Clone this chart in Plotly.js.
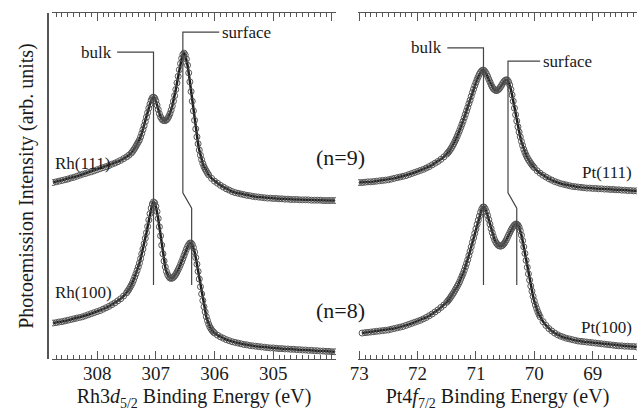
<!DOCTYPE html>
<html>
<head>
<meta charset="utf-8">
<script src="https://cdn.plot.ly/plotly-3.0.1.min.js"></script>
<style>html,body{margin:0;padding:0;background:#fff;}#chart{width:637px;height:419px;}</style>
</head>
<body>
<div id="chart"></div>
<script>
// ---------- Rh 3d5/2 spectra (binding energy in eV, intensity in arb. units with offsets) ----------
const rh111_E = [308.75,308.70,308.65,308.60,308.55,308.50,308.45,308.40,308.35,308.30,308.25,308.20,308.15,308.10,308.05,308.00,307.95,307.90,307.85,307.80,307.75,307.70,307.65,307.60,307.55,307.50,307.46,307.42,
307.40,307.38,307.36,307.34,307.32,307.30,307.28,307.26,307.24,307.22,307.20,307.18,307.16,307.14,307.12,307.10,307.08,307.06,307.04,307.02,307.00,306.98,306.96,306.94,306.92,306.90,306.88,306.86,306.84,306.82,306.80,306.78,306.76,306.74,306.72,306.70,306.68,306.66,306.64,306.62,306.60,306.58,306.56,306.54,306.52,306.50,306.48,306.46,306.44,306.42,306.40,306.38,306.36,306.34,306.32,306.30,306.28,306.26,306.24,306.22,306.20,306.18,306.16,306.14,306.12,306.10,
306.05,306.00,305.95,305.90,305.85,305.80,305.75,305.70,305.65,305.60,305.55,305.50,305.45,305.40,305.35,305.30,305.25,305.20,305.15,305.10,305.05,305.00,304.95,304.90,304.85,304.80,304.75,304.70,304.65,304.60,304.55,304.50,304.45,304.40,304.35,304.30,304.25,304.20,304.15,304.10,304.05,304.00,303.95];
const rh111_I = [51.0,51.2,51.4,51.6,51.8,52.0,52.3,52.5,52.8,53.1,53.4,53.6,53.9,54.1,54.4,54.7,55.0,55.3,55.6,55.9,56.3,56.6,57.0,57.4,57.9,58.4,58.9,59.5,
59.9,60.4,60.9,61.5,62.1,62.7,63.3,64.2,65.2,66.3,67.4,68.6,69.9,71.2,72.5,73.7,74.8,75.5,75.7,75.4,74.6,73.4,72.1,70.9,70.0,69.4,69.0,68.9,68.9,69.1,69.5,70.1,70.9,71.9,73.1,74.5,76.1,77.9,79.8,81.7,83.6,85.4,86.9,88.0,88.4,87.9,86.7,84.9,82.7,80.1,77.3,74.5,71.7,69.0,66.5,64.2,62.2,60.4,58.9,57.6,56.5,55.6,54.9,54.3,53.7,53.2,
52.2,51.4,50.8,50.2,49.7,49.2,48.8,48.4,48.1,47.9,47.7,47.5,47.3,47.2,47.0,46.9,46.8,46.7,46.6,46.5,46.5,46.4,46.4,46.3,46.3,46.2,46.2,46.1,46.1,46.1,46.0,46.0,46.0,46.0,45.9,45.9,45.9,45.9,45.8,45.8,45.8,45.8,45.8];

const rh100_E = [308.75,308.70,308.65,308.60,308.55,308.50,308.45,308.40,308.35,308.30,308.25,308.20,308.15,308.10,308.05,308.00,307.95,307.90,307.85,307.80,307.75,307.70,307.65,307.60,307.55,307.50,
307.48,307.46,307.44,307.42,307.40,307.38,307.36,307.34,307.32,307.30,307.28,307.26,307.24,307.22,307.20,307.18,307.16,307.14,307.12,307.10,307.08,307.06,307.04,307.02,307.00,306.98,306.96,306.94,306.92,306.90,306.88,306.86,306.84,306.82,306.80,306.78,306.76,306.74,306.72,306.70,306.68,306.66,306.64,306.62,306.60,306.58,306.56,306.54,306.52,306.50,306.48,306.46,306.44,306.42,306.40,306.38,306.36,306.34,306.32,306.30,306.28,306.26,306.24,306.22,306.20,306.18,306.16,306.14,306.12,306.10,306.08,306.06,306.04,306.02,306.00,
305.95,305.90,305.85,305.80,305.75,305.70,305.65,305.60,305.55,305.50,305.45,305.40,305.35,305.30,305.25,305.20,305.15,305.10,305.05,305.00,304.95,304.90,304.85,304.80,304.75,304.70,304.65,304.60,304.55,304.50,304.45,304.40,304.35,304.30,304.25,304.20,304.15,304.10,304.05,304.00,303.95];
const rh100_I = [10.4,10.5,10.7,10.8,11.0,11.2,11.4,11.6,11.8,12.0,12.2,12.5,12.8,13.1,13.4,13.7,14.0,14.4,14.8,15.2,15.7,16.2,16.8,17.4,18.2,19.1,
19.6,20.1,20.7,21.3,22.0,22.8,23.7,24.6,25.6,26.6,27.7,29.0,30.4,31.8,33.3,34.9,36.5,38.3,40.2,42.0,43.6,44.8,45.4,45.1,44.1,42.6,40.6,38.2,35.6,32.9,30.4,28.3,26.6,25.3,24.4,23.8,23.4,23.3,23.4,23.6,24.0,24.5,25.1,25.8,26.5,27.3,28.1,29.0,29.9,30.8,31.7,32.5,33.1,33.5,33.5,33.1,32.2,30.9,29.3,27.4,25.3,23.1,20.9,18.8,16.9,15.1,13.6,12.2,11.1,10.1,9.3,8.7,8.2,7.8,7.5,
6.9,6.4,6.0,5.6,5.3,5.0,4.8,4.6,4.4,4.2,4.1,3.9,3.8,3.7,3.6,3.5,3.4,3.3,3.2,3.2,3.1,3.0,3.0,2.9,2.9,2.8,2.8,2.7,2.7,2.6,2.6,2.5,2.5,2.4,2.4,2.3,2.3,2.2,2.2,2.1,2.1];

// ---------- Pt 4f7/2 spectra ----------
const pt111_E = [73.00,72.95,72.90,72.85,72.80,72.75,72.70,72.65,72.60,72.55,72.50,72.45,72.40,72.35,72.30,72.25,72.20,72.15,72.10,72.05,72.00,71.95,71.90,71.85,71.80,71.75,71.70,71.65,71.60,71.55,71.50,
71.48,71.46,71.44,71.42,71.40,71.38,71.36,71.34,71.32,71.30,71.28,71.26,71.24,71.22,71.20,71.18,71.16,71.14,71.12,71.10,71.08,71.06,71.04,71.02,71.00,70.98,70.96,70.94,70.92,70.90,70.88,70.86,70.84,70.82,70.80,70.78,70.76,70.74,70.72,70.70,70.68,70.66,70.64,70.62,70.60,70.58,70.56,70.54,70.52,70.50,70.48,70.46,70.44,70.42,70.40,70.38,70.36,70.34,70.32,70.30,70.28,70.26,70.24,70.22,70.20,70.18,70.16,70.14,70.12,70.10,70.08,70.06,70.04,70.02,70.00,
69.95,69.90,69.85,69.80,69.75,69.70,69.65,69.60,69.55,69.50,69.45,69.40,69.35,69.30,69.25,69.20,69.15,69.10,69.05,69.00,68.95,68.90,68.85,68.80,68.75,68.70,68.65,68.60,68.55,68.50,68.45,68.40,68.35,68.30,68.25];
const pt111_I = [51.0,51.0,51.1,51.2,51.2,51.3,51.4,51.5,51.6,51.7,51.8,52.0,52.2,52.4,52.6,52.8,53.0,53.3,53.6,53.9,54.2,54.5,54.8,55.2,55.6,56.1,56.6,57.1,57.7,58.4,59.2,
59.6,60.0,60.5,61.0,61.6,62.2,62.9,63.6,64.4,65.2,66.0,66.9,67.8,68.7,69.7,70.7,71.7,72.7,73.8,74.8,75.9,77.0,78.0,79.0,79.9,80.8,81.6,82.3,82.9,83.3,83.5,83.4,83.0,82.4,81.7,80.9,80.1,79.3,78.6,78.1,77.8,77.6,77.6,77.8,78.1,78.6,79.1,79.7,80.2,80.5,80.7,80.6,80.1,79.2,77.9,76.3,74.5,72.5,70.6,68.8,67.1,65.6,64.2,62.9,61.7,60.6,59.7,58.9,58.2,57.6,57.1,56.6,56.1,55.7,55.3,
54.4,53.7,53.1,52.6,52.1,51.7,51.3,51.0,50.7,50.5,50.3,50.1,49.9,49.8,49.7,49.6,49.5,49.4,49.4,49.3,49.3,49.2,49.2,49.1,49.1,49.0,49.0,48.9,48.9,48.8,48.8,48.7,48.7,48.6,48.6];

const pt100_E = [72.95,72.90,72.85,72.80,72.75,72.70,72.65,72.60,72.55,72.50,72.45,72.40,72.35,72.30,72.25,72.20,72.15,72.10,72.05,72.00,71.95,71.90,71.85,71.80,71.75,71.70,71.65,71.60,71.55,71.50,
71.48,71.46,71.44,71.42,71.40,71.38,71.36,71.34,71.32,71.30,71.28,71.26,71.24,71.22,71.20,71.18,71.16,71.14,71.12,71.10,71.08,71.06,71.04,71.02,71.00,70.98,70.96,70.94,70.92,70.90,70.88,70.86,70.84,70.82,70.80,70.78,70.76,70.74,70.72,70.70,70.68,70.66,70.64,70.62,70.60,70.58,70.56,70.54,70.52,70.50,70.48,70.46,70.44,70.42,70.40,70.38,70.36,70.34,70.32,70.30,70.28,70.26,70.24,70.22,70.20,70.18,70.16,70.14,70.12,70.10,70.08,70.06,70.04,70.02,70.00,69.98,69.96,69.94,69.92,69.90,
69.85,69.80,69.75,69.70,69.65,69.60,69.55,69.50,69.45,69.40,69.35,69.30,69.25,69.20,69.15,69.10,69.05,69.00,68.95,68.90,68.85,68.80,68.75,68.70,68.65,68.60,68.55,68.50,68.45,68.40,68.35,68.30,68.25];
const pt100_I = [7.5,7.6,7.7,7.8,7.9,8.0,8.1,8.2,8.3,8.4,8.6,8.8,9.0,9.2,9.4,9.7,10.0,10.3,10.6,10.9,11.2,11.6,12.0,12.5,13.0,13.6,14.2,14.9,15.6,16.4,
16.8,17.2,17.7,18.2,18.7,19.2,19.8,20.4,21.0,21.6,22.3,23.1,23.9,24.7,25.6,26.6,27.6,28.7,29.9,31.1,32.4,33.7,35.0,36.3,37.6,38.9,40.1,41.3,42.4,43.3,43.9,43.9,43.4,42.6,41.5,40.3,39.0,37.7,36.5,35.4,34.5,33.8,33.3,32.9,32.7,32.6,32.7,32.9,33.3,33.8,34.4,35.1,35.8,36.5,37.2,37.8,38.3,38.7,39.0,39.0,38.7,38.1,37.1,35.8,34.2,32.4,30.5,28.5,26.5,24.6,22.8,21.1,19.6,18.1,16.8,15.6,14.6,13.7,12.9,12.2,
10.8,9.7,8.8,8.1,7.5,7.0,6.6,6.3,6.0,5.8,5.6,5.4,5.2,5.1,5.0,4.9,4.8,4.7,4.6,4.5,4.4,4.3,4.2,4.1,4.0,3.9,3.8,3.8,3.7,3.7,3.6,3.6,3.5];

// ---------- Labels ----------
const xTitleRh = 'Rh3<i>d</i><sub>5/2</sub> Binding Energy (eV)';
const xTitlePt = 'Pt4<i>f</i><sub>7/2</sub> Binding Energy (eV)';
const yTitle = 'Photoemission Intensity (arb. units)';

// ---------- Styling / layout ----------
const W = 637, H = 419;
const FONT = 'Liberation Serif';
const INK = '#1a1a1a';
const AX = '#555';
const LEAD = '#444';
const px = v => v / W;
const py = v => (H - v) / H;

function spec(x, y, xa, ya) {
  return {
    x: x, y: y, xaxis: xa, yaxis: ya, type: 'scatter', mode: 'lines+markers',
    line: {color: '#1e1e1e', width: 2.5},
    marker: {symbol: 'circle-open', size: 6, color: '#555', line: {width: 1, color: '#555'}},
    hoverinfo: 'skip', showlegend: false
  };
}

const data = [
  spec(rh111_E, rh111_I, 'x', 'y'),
  spec(rh100_E, rh100_I, 'x', 'y'),
  spec(pt111_E, pt111_I, 'x2', 'y2'),
  spec(pt100_E, pt100_I, 'x2', 'y2')
];

const xCommon = {
  showline: true, linecolor: AX, linewidth: 1.2, mirror: 'allticks',
  tickmode: 'linear', tick0: 0, dtick: 1,
  ticks: 'inside', ticklen: 8, tickwidth: 1, tickcolor: AX,
  ticklabelstandoff: -3,
  minor: {tick0: 0, dtick: 0.1, ticks: 'inside', ticklen: 4, tickwidth: 1, tickcolor: AX, showgrid: false},
  showgrid: false, zeroline: false,
  tickfont: {family: FONT, size: 19, color: INK}
};

const yDomain = [py(359), py(13)];

const layout = {
  width: W, height: H,
  margin: {l: 0, r: 0, t: 0, b: 0, pad: 0},
  paper_bgcolor: '#fff', plot_bgcolor: 'rgba(0,0,0,0)',
  font: {family: FONT, color: INK},
  showlegend: false,
  xaxis: Object.assign({}, xCommon, {
    domain: [px(52), px(336)], range: [308.77, 303.93], anchor: 'y',
    labelalias: {'304': ' '},
    title: {text: xTitleRh, font: {family: FONT, size: 20, color: INK}, standoff: 6}
  }),
  xaxis2: Object.assign({}, xCommon, {
    domain: [px(358), 1], range: [73.02, 68.24], anchor: 'y2',
    title: {text: xTitlePt, font: {family: FONT, size: 20, color: INK}, standoff: 6}
  }),
  yaxis: {
    domain: yDomain, range: [0, 100], anchor: 'free', position: px(47),
    showline: true, linecolor: AX, linewidth: 1.5, ticks: '', showticklabels: false,
    showgrid: false, zeroline: false,
    title: {text: yTitle, font: {family: FONT, size: 20, color: INK}, standoff: 6}
  },
  yaxis2: {
    domain: yDomain, range: [0, 100], anchor: 'x2',
    showline: false, ticks: '', showticklabels: false, showgrid: false, zeroline: false
  },
  shapes: [
    {type: 'path', xref: 'x', yref: 'y', path: 'M307.66,88.7 L307.04,88.7 L307.04,21.4', line: {color: LEAD, width: 1.2}},
    {type: 'path', xref: 'x', yref: 'y', path: 'M305.92,94.5 L306.54,94.5 L306.54,48.0 L306.39,43.6 L306.39,21.4', line: {color: LEAD, width: 1.2}},
    {type: 'path', xref: 'x2', yref: 'y2', path: 'M71.49,89.9 L70.87,89.9 L70.87,21.4', line: {color: LEAD, width: 1.2}},
    {type: 'path', xref: 'x2', yref: 'y2', path: 'M69.90,86.1 L70.45,86.1 L70.45,48.0 L70.30,43.6 L70.30,21.4', line: {color: LEAD, width: 1.2}}
  ],
  annotations: [
    {text: 'bulk', xref: 'x', yref: 'y', x: 307.71, y: 88.7, xanchor: 'right', yanchor: 'middle', showarrow: false, font: {family: FONT, size: 17}},
    {text: 'surface', xref: 'x', yref: 'y', x: 305.91, y: 94.5, xanchor: 'left', yanchor: 'middle', showarrow: false, font: {family: FONT, size: 17}},
    {text: 'Rh(111)', xref: 'x', yref: 'y', x: 308.76, y: 56.6, xanchor: 'left', yanchor: 'middle', showarrow: false, font: {family: FONT, size: 17}},
    {text: 'Rh(100)', xref: 'x', yref: 'y', x: 308.76, y: 19.1, xanchor: 'left', yanchor: 'middle', showarrow: false, font: {family: FONT, size: 17}},
    {text: 'bulk', xref: 'x2', yref: 'y2', x: 71.54, y: 89.9, xanchor: 'right', yanchor: 'middle', showarrow: false, font: {family: FONT, size: 17}},
    {text: 'surface', xref: 'x2', yref: 'y2', x: 69.89, y: 86.1, xanchor: 'left', yanchor: 'middle', showarrow: false, font: {family: FONT, size: 17}},
    {text: 'Pt(111)', xref: 'x2', yref: 'y2', x: 68.29, y: 54.0, xanchor: 'right', yanchor: 'middle', showarrow: false, font: {family: FONT, size: 17}},
    {text: 'Pt(100)', xref: 'x2', yref: 'y2', x: 68.29, y: 9.0, xanchor: 'right', yanchor: 'middle', showarrow: false, font: {family: FONT, size: 17}},
    {text: '(n=9)', xref: 'paper', yref: 'paper', x: px(341), y: py(157), xanchor: 'center', yanchor: 'middle', showarrow: false, font: {family: FONT, size: 22}},
    {text: '(n=8)', xref: 'paper', yref: 'paper', x: px(341), y: py(310), xanchor: 'center', yanchor: 'middle', showarrow: false, font: {family: FONT, size: 22}}
  ]
};

Plotly.newPlot('chart', data, layout, {staticPlot: true, displayModeBar: false});
</script>
</body>
</html>
